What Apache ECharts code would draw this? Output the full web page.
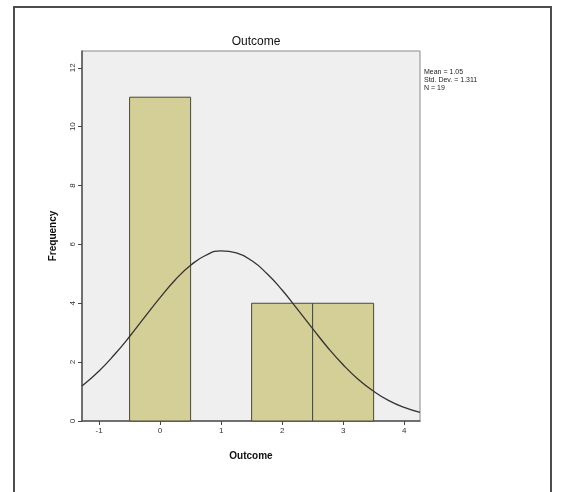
<!DOCTYPE html>
<html><head><meta charset="utf-8">
<script src="https://cdn.jsdelivr.net/npm/echarts@6/dist/echarts.min.js"></script>
<style>html,body{margin:0;padding:0;background:#fff}#c{width:566px;height:492px}</style>
</head><body><div id="c"></div>
<script>
// Histogram bins (centres) and frequencies
const binCenters = [0, 1, 2, 3];
const frequencies = [11, 0, 4, 4];
const binWidth = 1;
// Normal curve
const curveX = [-1.28, -1, -0.75, -0.5, -0.25, 0, 0.25, 0.5, 0.75, 1, 1.25, 1.5, 1.75, 2, 2.25, 2.5, 2.75, 3, 3.25, 3.5, 3.75, 4, 4.26];
const curveY = [1.19, 1.70, 2.25, 2.87, 3.54, 4.19, 4.80, 5.29, 5.63, 5.78, 5.71, 5.45, 5.01, 4.45, 3.80, 3.14, 2.49, 1.91, 1.41, 1.01, 0.69, 0.46, 0.29];
const xTicks = [-1, 0, 1, 2, 3, 4];
const yTicks = [0, 2, 4, 6, 8, 10, 12];
const statsText = ['Mean = 1.05', 'Std. Dev. = 1.311', 'N = 19'];

const chart = echarts.init(document.getElementById('c'), null, {renderer: 'canvas'});
const histData = binCenters.map((c, i) => [c - binWidth / 2, c + binWidth / 2, frequencies[i]]).filter(d => d[2] > 0);

chart.setOption({
  animation: false,
  backgroundColor: '#fff',
  title: {
    text: 'Outcome', left: 251, top: 31, textAlign: 'center',
    textStyle: {fontFamily: 'Liberation Sans, Arial', fontSize: 12, fontWeight: 'normal', color: '#111'}
  },
  graphic: [
    {type: 'rect', shape: {x: 14, y: 7, width: 537, height: 500}, style: {fill: 'none', stroke: '#4d4d4d', lineWidth: 2}, silent: true},
    {type: 'text', left: 424, top: 68, style: {text: statsText.join('\n'), fontFamily: 'Liberation Sans, Arial', fontSize: 7, lineHeight: 8, fill: '#222'}}
  ],
  grid: {left: 82, right: 146, top: 51, bottom: 71, show: true, backgroundColor: '#efefef', borderColor: '#8a8a8a', borderWidth: 1},
  xAxis: {
    type: 'value', min: -1.28, max: 4.26,
    name: 'Outcome', nameLocation: 'middle', nameGap: 30,
    nameTextStyle: {fontFamily: 'Liberation Sans, Arial', fontSize: 10, fontWeight: 'bold', color: '#111'},
    axisLine: {show: true, onZero: false, lineStyle: {color: '#555', width: 1.5}},
    axisTick: {show: true, length: 4, customValues: xTicks, lineStyle: {color: '#444'}},
    axisLabel: {customValues: xTicks, fontFamily: 'Liberation Sans, Arial', fontSize: 8, color: '#333', margin: 6},
    splitLine: {show: false}
  },
  yAxis: {
    type: 'value', min: 0, max: 12.57,
    name: 'Frequency', nameLocation: 'middle', nameGap: 24,
    nameTextStyle: {fontFamily: 'Liberation Sans, Arial', fontSize: 10, fontWeight: 'bold', color: '#111'},
    axisLine: {show: true, onZero: false, lineStyle: {color: '#555', width: 1.5}},
    axisTick: {show: true, length: 4, customValues: yTicks, lineStyle: {color: '#444'}},
    axisLabel: {customValues: yTicks, rotate: 90, fontFamily: 'Liberation Sans, Arial', fontSize: 8, color: '#333', margin: 5},
    splitLine: {show: false}
  },
  series: [
    {
      type: 'custom', data: histData, z: 2,
      renderItem: function (params, api) {
        const p0 = api.coord([api.value(0), api.value(2)]);
        const p1 = api.coord([api.value(1), 0]);
        return {type: 'rect', shape: {x: p0[0], y: p0[1], width: p1[0] - p0[0], height: p1[1] - p0[1]},
          style: {fill: '#d4cf96', stroke: '#4a4838', lineWidth: 1}};
      }
    },
    {
      type: 'line', data: curveX.map((x, i) => [x, curveY[i]]), smooth: true, showSymbol: false, z: 3,
      lineStyle: {color: '#333', width: 1.3}
    }
  ]
});
</script></body></html>
